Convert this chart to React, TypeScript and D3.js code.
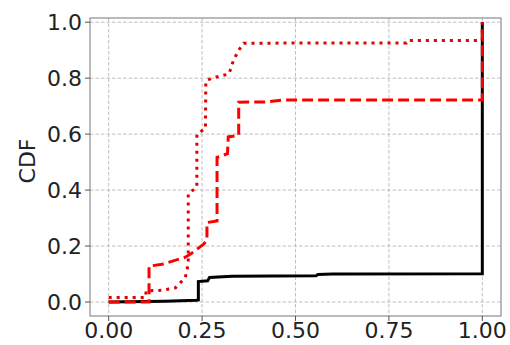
import { useRef, useEffect } from 'react';
import { select, scaleLinear, line } from 'd3';

// CDF curves, [x, cumulative fraction]
const solidSeries: [number, number][] = [
  [0, 0], [0.15, 0.003], [0.235, 0.006], [0.24, 0.007], [0.24, 0.073],
  [0.265, 0.076], [0.27, 0.088], [0.33, 0.092], [0.555, 0.094],
  [0.56, 0.098], [0.6, 0.1], [1.0, 0.101], [1.0, 1.0],
];

const dashedSeries: [number, number][] = [
  [0, 0], [0.108, 0], [0.108, 0.128], [0.143, 0.135], [0.205, 0.16],
  [0.22, 0.172], [0.254, 0.207], [0.263, 0.22], [0.263, 0.284],
  [0.29, 0.29], [0.29, 0.517], [0.318, 0.53], [0.32, 0.59],
  [0.348, 0.595], [0.348, 0.714], [0.423, 0.715], [0.467, 0.722],
  [1.0, 0.722], [1.0, 1.0],
];

const dottedSeries: [number, number][] = [
  [0, 0.016], [0.099, 0.016], [0.1, 0.04], [0.143, 0.042], [0.179, 0.051],
  [0.205, 0.087], [0.213, 0.136], [0.213, 0.387], [0.236, 0.41],
  [0.236, 0.6], [0.259, 0.62], [0.26, 0.79], [0.276, 0.8],
  [0.322, 0.815], [0.334, 0.864], [0.348, 0.9], [0.361, 0.925],
  [0.797, 0.926], [0.8, 0.935], [1.0, 0.935], [1.0, 1.0],
];

const xTicks = [0, 0.25, 0.5, 0.75, 1.0];
const yTicks = [0, 0.2, 0.4, 0.6, 0.8, 1.0];
const yLabel = 'CDF';

const W = 510;
const H = 345;
const box = { left: 90, right: 501, top: 18, bottom: 316 };
const font = 'DejaVu Sans, sans-serif';

const App = () => {
  const ref = useRef<SVGSVGElement>(null);

  useEffect(() => {
    if (!ref.current) return;
    const svg = select(ref.current);
    svg.selectAll('*').remove();

    const x = scaleLinear().domain([-0.05, 1.05]).range([box.left, box.right]);
    const y = scaleLinear().domain([-0.05, 1.015]).range([box.bottom, box.top]);

    const grid = svg.append('g');
    xTicks.forEach((t) => {
      grid.append('line')
        .attr('x1', x(t)).attr('x2', x(t))
        .attr('y1', box.top).attr('y2', box.bottom)
        .attr('stroke', '#b8b8b8').attr('stroke-width', 0.9)
        .attr('stroke-dasharray', '3.5,2');
    });
    yTicks.forEach((t) => {
      grid.append('line')
        .attr('x1', box.left).attr('x2', box.right)
        .attr('y1', y(t)).attr('y2', y(t))
        .attr('stroke', '#b8b8b8').attr('stroke-width', 0.9)
        .attr('stroke-dasharray', '3.5,2');
    });

    const path = line<[number, number]>().x((d) => x(d[0])).y((d) => y(d[1]));

    svg.append('path').attr('d', path(solidSeries))
      .attr('fill', 'none').attr('stroke', '#000').attr('stroke-width', 3);
    svg.append('path').attr('d', path(dashedSeries))
      .attr('fill', 'none').attr('stroke', '#ff0000').attr('stroke-width', 3)
      .attr('stroke-dasharray', '11,5');
    svg.append('path').attr('d', path(dottedSeries))
      .attr('fill', 'none').attr('stroke', '#e00000').attr('stroke-width', 3)
      .attr('stroke-dasharray', '3,5');

    svg.append('rect')
      .attr('x', box.left).attr('y', box.top)
      .attr('width', box.right - box.left).attr('height', box.bottom - box.top)
      .attr('fill', 'none').attr('stroke', '#777').attr('stroke-width', 1);

    const ticks = svg.append('g').attr('font-family', font).attr('font-size', 22).attr('fill', '#222');
    xTicks.forEach((t) => {
      ticks.append('line')
        .attr('x1', x(t)).attr('x2', x(t))
        .attr('y1', box.bottom).attr('y2', box.bottom + 5)
        .attr('stroke', '#555');
      ticks.append('text')
        .attr('x', x(t)).attr('y', 338)
        .attr('text-anchor', 'middle')
        .text(t.toFixed(2));
    });
    yTicks.forEach((t) => {
      ticks.append('line')
        .attr('x1', box.left - 5).attr('x2', box.left)
        .attr('y1', y(t)).attr('y2', y(t))
        .attr('stroke', '#555');
      ticks.append('text')
        .attr('x', box.left - 8).attr('y', y(t) + 8)
        .attr('text-anchor', 'end')
        .text(t.toFixed(1));
    });

    svg.append('text')
      .attr('transform', `translate(35,161) rotate(-90)`)
      .attr('text-anchor', 'middle')
      .attr('font-family', font).attr('font-size', 22).attr('fill', '#222')
      .text(yLabel);
  }, []);

  return (
    <svg
      ref={ref}
      width={W}
      height={H}
      style={{ position: 'absolute', left: 0, top: 0, background: '#fff' }}
    />
  );
};

export default App;
